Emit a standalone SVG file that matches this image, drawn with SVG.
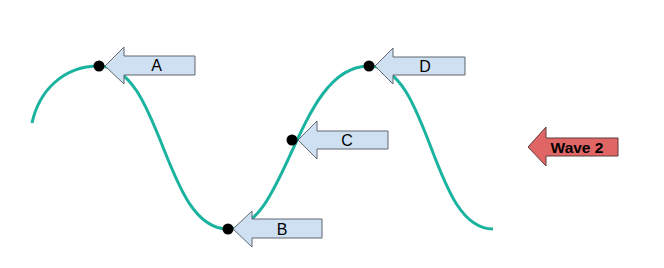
<svg xmlns="http://www.w3.org/2000/svg" width="664" height="268" viewBox="0 0 664 268">
<style>
.arrow{fill:#CFE0F2;stroke:#5F6670;stroke-width:1}
.red{fill:#E06666;stroke:#5F3A3A;stroke-width:1}
.lbl{font-family:"Liberation Sans",Arial,sans-serif;font-size:16px;fill:#000;text-anchor:middle}
.bold{font-weight:bold}
.dot{fill:#000}
.wave{fill:none;stroke:#1AB3A0;stroke-width:3;stroke-linecap:butt}
</style>
<rect width="664" height="268" fill="#fff"/>
<g id="connectors">
<path class="wave" d="M32,123 C39,91 63,66 99,66 C163,66 163,229 228,229 C288,229 296,66 369,66 C431,66 431,229 493,229"/>
</g>
<g id="nodeA">
<polygon class="arrow" points="105,66 124,47 124,56 195,56 195,75 124,75 124,84"/>
<circle class="dot" cx="99" cy="66" r="5.5"/>
<text class="lbl" x="156.5" y="71">A</text>
</g>
<g id="nodeB">
<polygon class="arrow" points="233,229 252,211 252,219 322,219 322,238 252,238 252,247"/>
<circle class="dot" cx="228" cy="229" r="5.5"/>
<text class="lbl" x="282" y="234.5">B</text>
</g>
<g id="nodeC">
<polygon class="arrow" points="298,140 317,121 317,131 388,131 388,149 317,149 317,159"/>
<circle class="dot" cx="292" cy="140" r="5.5"/>
<text class="lbl" x="347" y="146">C</text>
</g>
<g id="nodeD">
<polygon class="arrow" points="375,66 393,48 393,57 465,57 465,75 393,75 393,84"/>
<circle class="dot" cx="369" cy="66" r="5.5"/>
<text class="lbl" x="425" y="71.5">D</text>
</g>
<g id="wave2">
<polygon class="red" points="528,147 546,127 546,138 618,138 618,156 546,156 546,166"/>
<text class="lbl bold" x="577" y="153" style="font-size:15.5px">Wave 2</text>
</g>
</svg>
